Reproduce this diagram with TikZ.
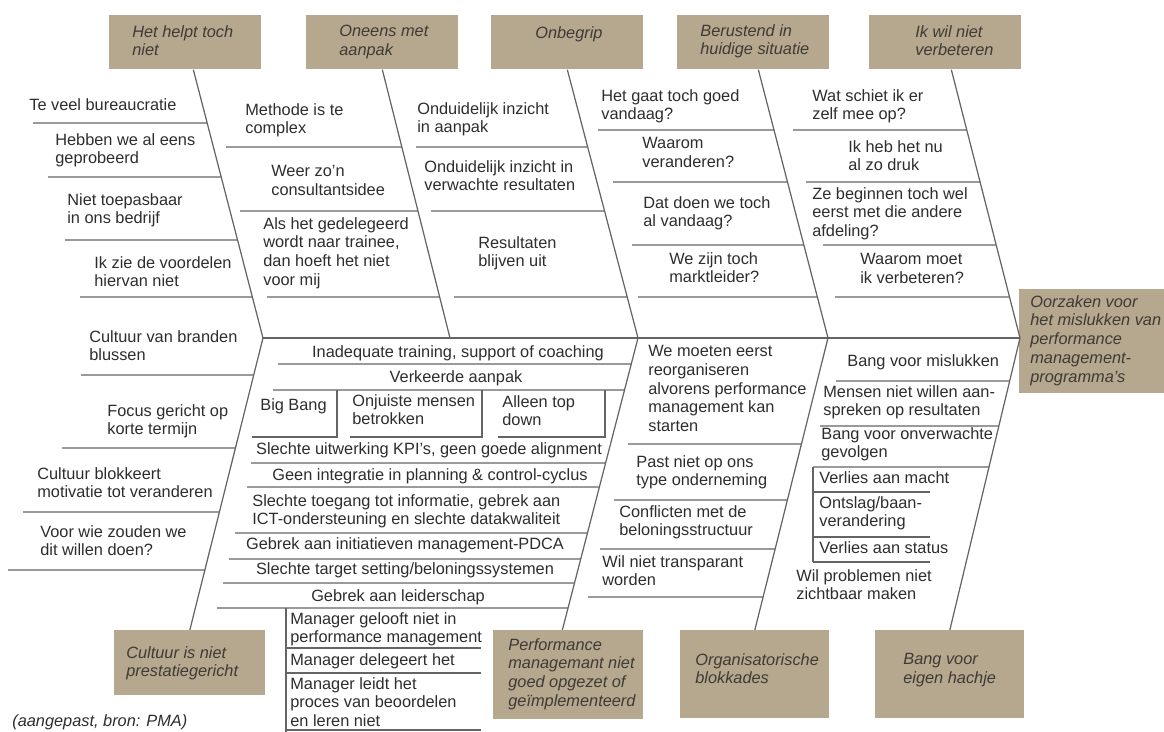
\documentclass[tikz,border=0pt]{standalone}
\usepackage{fontspec}
\setmainfont{Liberation Sans}
\definecolor{boxtan}{RGB}{182,168,143}
\definecolor{boxink}{RGB}{62,58,52}
\definecolor{ink}{RGB}{45,45,45}
\definecolor{linec}{RGB}{100,100,100}
\begin{document}
\begin{tikzpicture}[x=0.02cm, y=-0.02cm,
  bone/.style={draw=linec, line width=0.7pt},
  cbox/.style={fill=boxtan, anchor=north west, inner sep=0pt, minimum width=3.04cm, minimum height=1.08cm},
  ctxt/.style={anchor=north west, inner sep=0pt, align=left, text=boxink, font=\fontsize{9.3}{10.7}\selectfont\itshape, execute at begin node=\strut},
  why/.style={anchor=north west, inner sep=0pt, align=left, text=ink, font=\fontsize{9.3}{10.7}\selectfont, execute at begin node=\strut},
  whyc/.style={why, anchor=north, align=center}]
  \useasboundingbox (0,0) rectangle (1164,732);

  \node[cbox] (hlp) at (109,15) {};
  \node[ctxt] (hlp-t) at ([shift={(23,10)}]hlp.north west) {Het helpt toch\\niet};
  \node[cbox] (onm) at (306,15) {};
  \node[ctxt] (onm-t) at ([shift={(33,10)}]onm.north west) {Oneens met\\aanpak};
  \node[cbox] (onb) at (491,15) {};
  \node[ctxt] (onb-t) at ([shift={(44,10)}]onb.north west) {Onbegrip};
  \node[cbox] (ber) at (677,15) {};
  \node[ctxt] (ber-t) at ([shift={(23,9)}]ber.north west) {Berustend in\\huidige situatie};
  \node[cbox] (ikw) at (869,15) {};
  \node[ctxt] (ikw-t) at ([shift={(46,10)}]ikw.north west) {Ik wil niet\\verbeteren};

  \node[cbox, minimum width=2.9cm, minimum height=2.08cm] (oorz) at (1019,289) {};
  \node[ctxt] (oorz-t) at ([shift={(11,6)}]oorz.north west) {Oorzaken voor\\het mislukken van\\performance\\management-\\programma's};

  \node[cbox, minimum width=3.02cm, minimum height=1.3cm] (cul) at (114,630) {};
  \node[ctxt] (cul-t) at ([shift={(12,16)}]cul.north west) {Cultuur is niet\\prestatiegericht};
  \node[cbox, minimum width=3cm, minimum height=1.78cm] (pmn) at (493,630) {};
  \node[ctxt] (pmn-t) at ([shift={(15,8)}]pmn.north west) {Performance\\managemant niet\\goed opgezet of\\geïmplementeerd};
  \node[cbox, minimum width=2.98cm, minimum height=1.76cm] (org) at (680,630) {};
  \node[ctxt] (org-t) at ([shift={(15,23)}]org.north west) {Organisatorische\\blokkades};
  \node[cbox, minimum width=2.98cm, minimum height=1.76cm] (bng) at (875,630) {};
  \node[ctxt] (bng-t) at ([shift={(28,23)}]bng.north west) {Bang voor\\eigen hachje};

  \draw[bone] ([xshift=0.16cm]hlp.south) coordinate (tb1) -- (263,338) coordinate (jn1) -- (cul.north) coordinate (bb1);
  \draw[bone] (onm.south) coordinate (tb2) -- (450,338) coordinate (jn2);
  \draw[bone] (onb.south) coordinate (tb3) -- (638,338) coordinate (jn3) -- ([xshift=-0.12cm]pmn.north) coordinate (bb3);
  \draw[bone] ([xshift=0.1cm]ber.south) coordinate (tb4) -- (828,338) coordinate (jn4) -- (org.north) coordinate (bb4);
  \draw[bone] ([xshift=0.12cm]ikw.south) coordinate (tb5) -- (1020,338) coordinate (jn5) -- (bng.north) coordinate (bb5);
  \draw[bone] (jn1) -- (jn5);

  \foreach \x/\y in {33/123,48/177,65/240,80/297}
    \draw[bone] (\x,\y) -- (intersection of tb1--jn1 and 0,\y--1,\y);
  \foreach \x/\y in {226/147,240/211,267/297}
    \draw[bone] (\x,\y) -- (intersection of tb2--jn2 and 0,\y--1,\y);
  \foreach \x/\y in {416/147,431/211,454/297}
    \draw[bone] (\x,\y) -- (intersection of tb3--jn3 and 0,\y--1,\y);
  \foreach \x/\y in {598/130,613/182,632/245,638/297}
    \draw[bone] (\x,\y) -- (intersection of tb4--jn4 and 0,\y--1,\y);
  \foreach \x/\y in {793/130,806/182,823/245,835/297}
    \draw[bone] (\x,\y) -- (intersection of tb5--jn5 and 0,\y--1,\y);
  \foreach \x/\y in {81/375,62/448,23/512,8/570}
    \draw[bone] (\x,\y) -- (intersection of jn1--bb1 and 0,\y--1,\y);
  \foreach \x/\y in {278/364,273/390,251/463,247/487,235/533,229/559,223/583,217/608}
    \draw[bone] (\x,\y) -- (intersection of jn3--bb3 and 0,\y--1,\y);
  \foreach \x/\y in {628/444,614/500,600/549,588/597}
    \draw[bone] (\x,\y) -- (intersection of jn4--bb4 and 0,\y--1,\y);
  \foreach \x/\y in {836/381,820/426,813/467}
    \draw[bone] (\x,\y) -- (intersection of jn5--bb5 and 0,\y--1,\y);

  \draw[bone] (252,437) -- (337,437) -- (337,390);
  \draw[bone] (350,437) -- (482,437) -- (482,390);
  \draw[bone] (498,437) -- (605,437) -- (605,390);
  \draw[bone] (286,608) -- (286,733);
  \foreach \y in {648,673,730}
    \draw[bone] (286,\y) -- (481,\y);
  \draw[bone] (813,467) -- (813,562);
  \foreach \y in {492,537,562}
    \draw[bone] (813,\y) -- (930,\y);

  \node[why] (hlp1) at (29,97) {Te veel bureaucratie};
  \node[why] (hlp2) at (55,133) {Hebben we al eens\\geprobeerd};
  \node[why] (hlp3) at (67,193) {Niet toepasbaar\\in ons bedrijf};
  \node[why] (hlp4) at (94,256) {Ik zie de voordelen\\hiervan niet};
  \node[why] (onm1) at (245,103) {Methode is te\\complex};
  \node[why] (onm2) at (271,165) {Weer zo'n\\consultantsidee};
  \node[why] (onm3) at (263,217) {Als het gedelegeerd\\wordt naar trainee,\\dan hoeft het niet\\voor mij};
  \node[why] (onb1) at (417,102) {Onduidelijk inzicht\\in aanpak};
  \node[why] (onb2) at (424,160) {Onduidelijk inzicht in\\verwachte resultaten};
  \node[why] (onb3) at (478,236) {Resultaten\\blijven uit};
  \node[why] (ber1) at (601,89) {Het gaat toch goed\\vandaag?};
  \node[why] (ber2) at (642,137) {Waarom\\veranderen?};
  \node[why] (ber3) at (643,196) {Dat doen we toch\\al vandaag?};
  \node[why] (ber4) at (669,252) {We zijn toch\\marktleider?};
  \node[why] (ikw1) at (812,89) {Wat schiet ik er\\zelf mee op?};
  \node[why] (ikw2) at (848,140) {Ik heb het nu\\al zo druk};
  \node[why] (ikw3) at (812,187) {Ze beginnen toch wel\\eerst met die andere\\afdeling?};
  \node[why] (ikw4) at (860,253) {Waarom moet\\ik verbeteren?};

  \node[why] (cul1) at (89,330) {Cultuur van branden\\blussen};
  \node[why] (cul2) at (107,404) {Focus gericht op\\korte termijn};
  \node[why] (cul3) at (37,467) {Cultuur blokkeert\\motivatie tot veranderen};
  \node[why] (cul4) at (40,525) {Voor wie zouden we\\dit willen doen?};

  \node[whyc] (pmn1) at (458,344) {Inadequate training, support of coaching};
  \node[whyc] (pmn2) at (456,369) {Verkeerde aanpak};
  \node[why] (pmn2a) at (260,397) {Big Bang};
  \node[why] (pmn2b) at (352,394) {Onjuiste mensen\\betrokken};
  \node[why] (pmn2c) at (502,395) {Alleen top\\down};
  \node[whyc] (pmn3) at (429,441) {Slechte uitwerking KPI's, geen goede alignment};
  \node[whyc] (pmn4) at (430,467) {Geen integratie in planning \& control-cyclus};
  \node[why] (pmn5) at (252,494) {Slechte toegang tot informatie, gebrek aan\\ICT-ondersteuning en slechte datakwaliteit};
  \node[whyc] (pmn6) at (405,536) {Gebrek aan initiatieven management-PDCA};
  \node[whyc] (pmn7) at (405,561) {Slechte target setting/beloningssystemen};
  \node[whyc] (pmn8) at (398,588) {Gebrek aan leiderschap};
  \node[why] (mgr1) at (290,612) {Manager gelooft niet in\\performance management};
  \node[why] (mgr2) at (290,652) {Manager delegeert het};
  \node[why] (mgr3) at (290,677) {Manager leidt het\\proces van beoordelen\\en leren niet};

  \node[why] (org1) at (648,345) {We moeten eerst\\reorganiseren\\alvorens performance\\management kan\\starten};
  \node[why] (org2) at (636,455) {Past niet op ons\\type onderneming};
  \node[why] (org3) at (619,505) {Conflicten met de\\beloningsstructuur};
  \node[why] (org4) at (602,555) {Wil niet transparant\\worden};

  \node[why] (bng1) at (847,353) {Bang voor mislukken};
  \node[why] (bng2) at (823,385) {Mensen niet willen aan-\\spreken op resultaten};
  \node[why] (bng3) at (821,427) {Bang voor onverwachte\\gevolgen};
  \node[why] (bng3a) at (819,470) {Verlies aan macht};
  \node[why] (bng3b) at (819,496) {Ontslag/baan-\\verandering};
  \node[why] (bng3c) at (819,540) {Verlies aan status};
  \node[why] (bng4) at (796,569) {Wil problemen niet\\zichtbaar maken};

  \node[why, font=\fontsize{9.3}{10.7}\selectfont\itshape] (bron) at (12,713) {(aangepast, bron: PMA)};
\end{tikzpicture}
\end{document}
